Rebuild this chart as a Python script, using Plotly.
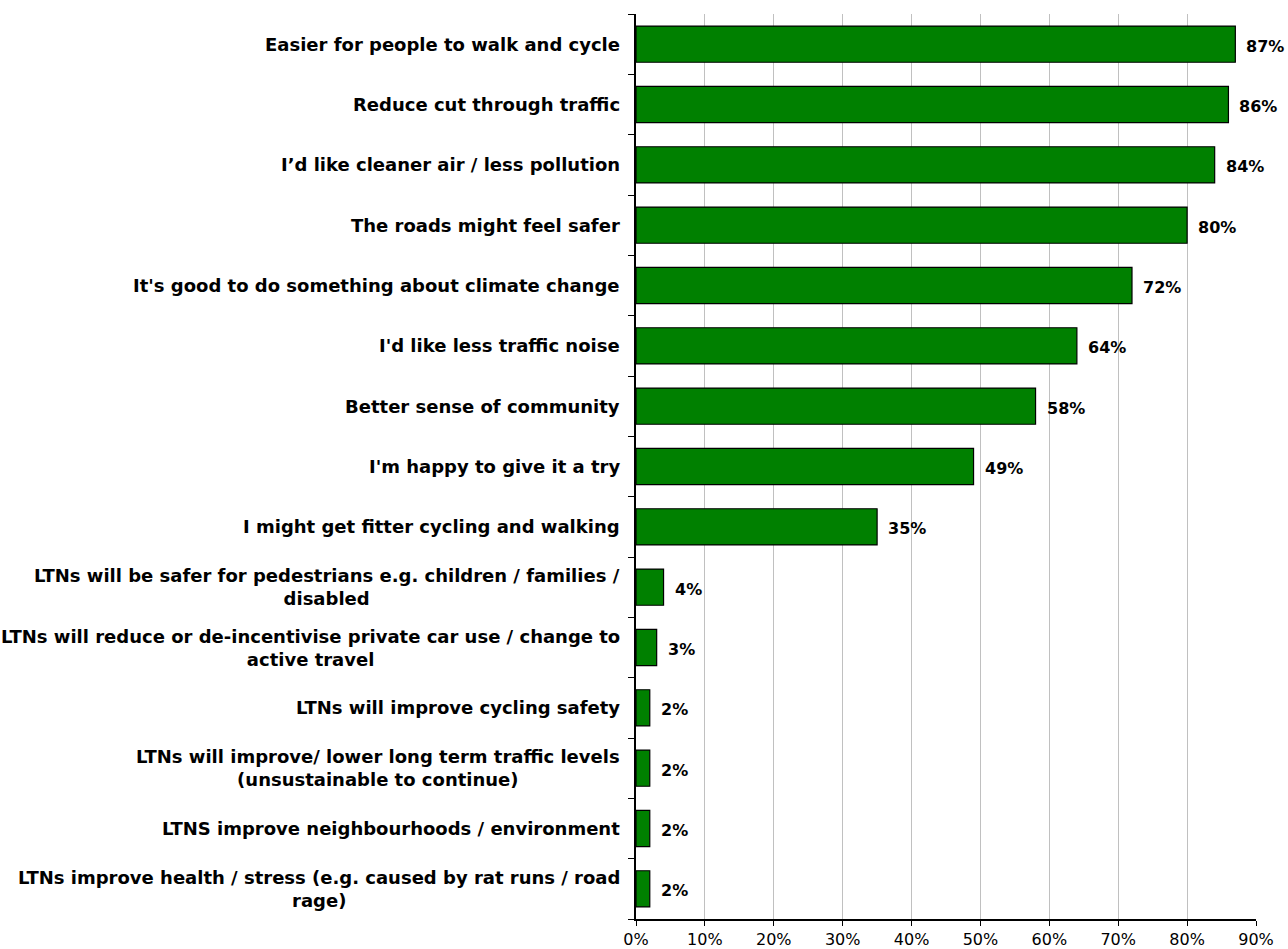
import plotly.graph_objects as go

# Reasons for supporting LTNs, share of respondents (%)
categories = [
    "Easier for people to walk and cycle",
    "Reduce cut through traffic",
    "I\u2019d like cleaner air / less pollution",
    "The roads might feel safer",
    "It's good to do something about climate change",
    "I'd like less traffic noise",
    "Better sense of community",
    "I'm happy to give it a try",
    "I might get fitter cycling and walking",
    "LTNs will be safer for pedestrians e.g. children / families /<br>disabled",
    "LTNs will reduce or de-incentivise private car use / change to<br>active travel",
    "LTNs will improve cycling safety",
    "LTNs will improve/ lower long term traffic levels<br>(unsustainable to continue)",
    "LTNS improve neighbourhoods / environment",
    "LTNs improve health / stress (e.g. caused by rat runs / road<br>rage)",
]
values = [87, 86, 84, 80, 72, 64, 58, 49, 35, 4, 3, 2, 2, 2, 2]
x_ticks = [0, 10, 20, 30, 40, 50, 60, 70, 80, 90]

FONT = "DejaVu Sans, Liberation Sans, Arial, sans-serif"
ids = list(range(len(categories)))

fig = go.Figure(
    go.Bar(
        x=values,
        y=ids,
        orientation="h",
        width=0.6,
        marker=dict(color="#008000", line=dict(color="#000000", width=1.2)),
        hoverinfo="skip",
    )
)

# value labels to the right of each bar
for i, v in zip(ids, values):
    fig.add_annotation(
        x=v, y=i, xref="x", yref="y",
        text=f"<b>{v}%</b>", showarrow=False,
        xanchor="left", yanchor="middle", xshift=9, yshift=-2,
        font=dict(family=FONT, size=16, color="#000000"),
    )

# category labels, centred lines, right-aligned block
for i, c in zip(ids, categories):
    fig.add_annotation(
        x=0, y=i, xref="paper", yref="y",
        text=f"<b>{c}</b>", showarrow=False,
        xanchor="right", yanchor="middle", xshift=-14, align="center",
        font=dict(family=FONT, size=18, color="#000000"),
    )

fig.update_layout(
    width=1288, height=949,
    margin=dict(l=636, r=32, t=14, b=30, autoexpand=False),
    paper_bgcolor="#ffffff", plot_bgcolor="#ffffff",
    showlegend=False,
    font=dict(family=FONT, size=16, color="#000000"),
    bargap=0.4,
)
fig.update_xaxes(
    range=[0, 90], tickvals=x_ticks,
    ticktext=[f"{t}%" for t in x_ticks],
    showgrid=True, gridcolor="#c0c0c0", gridwidth=1,
    showline=True, linecolor="#000000", linewidth=1.5,
    ticks="outside", ticklen=5, tickcolor="#000000",
    tickfont=dict(family=FONT, size=16, color="#000000"),
    zeroline=False, automargin=False,
)
fig.update_yaxes(
    type="category", autorange="reversed",
    tickvals=ids, showticklabels=False,
    tickson="boundaries", ticks="outside", ticklen=6, tickcolor="#000000",
    showline=True, linecolor="#000000", linewidth=1.5,
    showgrid=False, zeroline=False, automargin=False,
)

fig.write_html("out.html")
